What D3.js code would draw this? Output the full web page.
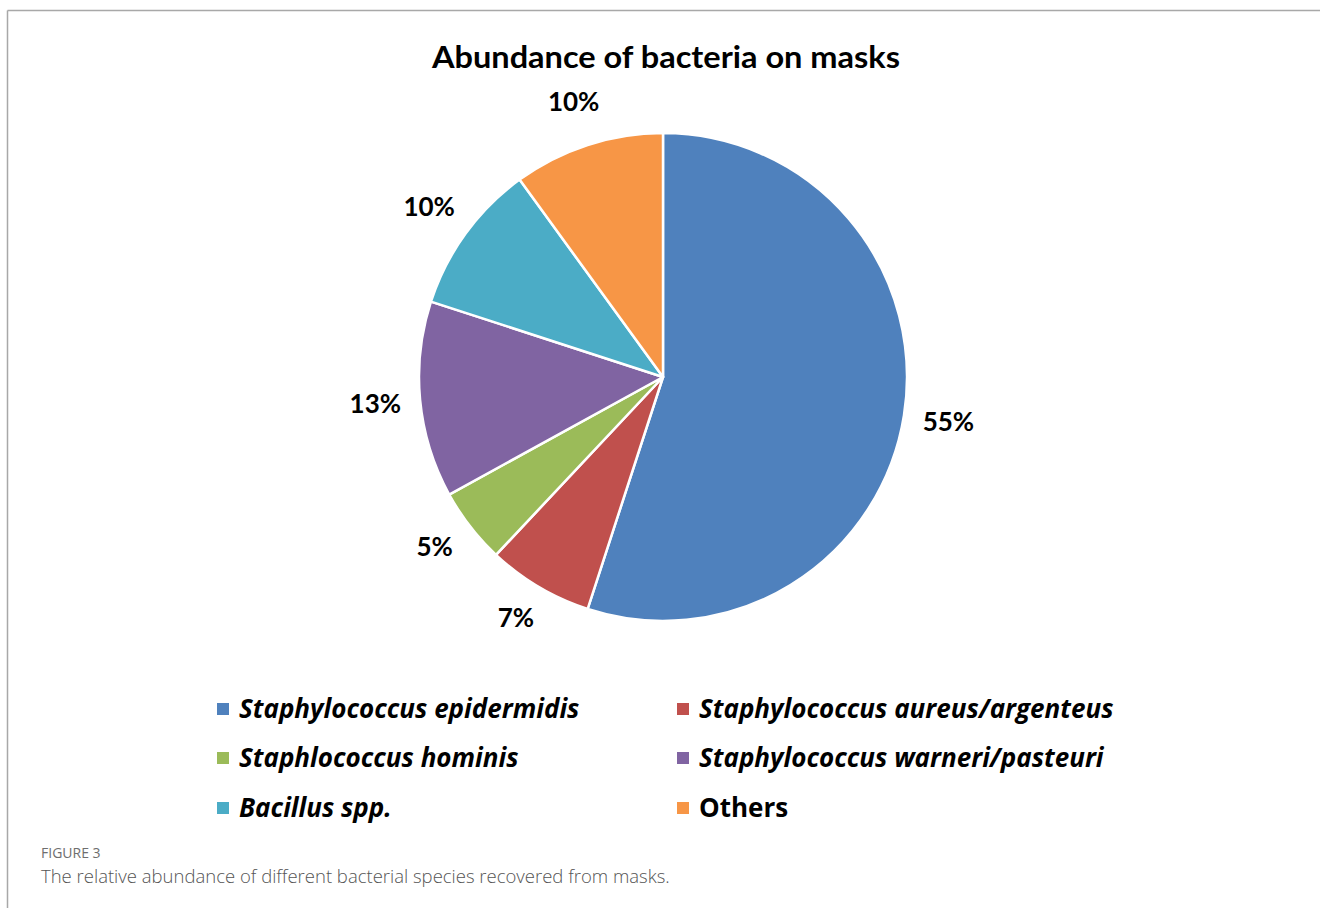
<!DOCTYPE html>
<html>
<head>
<meta charset="utf-8">
<script src="https://cdn.jsdelivr.net/npm/d3@7"></script>
<style>
  body { margin: 0; background: #fff; }
  svg { display: block; }
</style>
</head>
<body>
<svg id="chart" width="1320" height="908"></svg>
<script>
var species = [
  "Staphylococcus epidermidis",
  "Staphylococcus aureus/argenteus",
  "Staphlococcus hominis",
  "Staphylococcus warneri/pasteuri",
  "Bacillus spp.",
  "Others"
];
var italic = [true, true, true, true, true, false];
var abundance = [55, 7, 5, 13, 10, 10];
var colors = ["#4F81BD", "#C0504D", "#9BBB59", "#8064A2", "#4BACC6", "#F79646"];

var svg = d3.select("#chart");

// frame lines (left and top only)
svg.append("line").attr("x1", 7.5).attr("y1", 10.5).attr("x2", 1320).attr("y2", 10.5)
   .attr("stroke", "#a8a8a8").attr("stroke-width", 1.5);
svg.append("line").attr("x1", 7.5).attr("y1", 10.5).attr("x2", 7.5).attr("y2", 908)
   .attr("stroke", "#a8a8a8").attr("stroke-width", 1.5);

// title
svg.append("text")
   .attr("x", 666).attr("y", 68)
   .attr("text-anchor", "middle")
   .attr("font-family", "Lato, 'Open Sans', sans-serif")
   .attr("font-weight", "bold")
   .attr("font-size", 31)
   .attr("textLength", 468)
   .attr("lengthAdjust", "spacingAndGlyphs")
   .attr("fill", "#000")
   .text("Abundance of bacteria on masks");

var cx = 663, cy = 377, radius = 244;

var pie = d3.pie().sort(null).value(function(d) { return d; });
var arcs = pie(abundance);

var arc = d3.arc().innerRadius(0).outerRadius(radius);
var labelArc = d3.arc().innerRadius(289).outerRadius(289);

var g = svg.append("g").attr("transform", "translate(" + cx + "," + cy + ")");

g.selectAll("path")
 .data(arcs)
 .enter().append("path")
 .attr("d", arc)
 .attr("fill", function(d, i) { return colors[i]; })
 .attr("stroke", "#fff")
 .attr("stroke-width", 2.5)
 .attr("stroke-linejoin", "round");

g.selectAll("text.lbl")
 .data(arcs)
 .enter().append("text")
 .attr("class", "lbl")
 .attr("transform", function(d) {
   var c = labelArc.centroid(d);
   // nudge lower-left labels a little inward, like the spreadsheet's best-fit
   return "translate(" + c[0] + "," + (c[1] - (c[1] > 100 ? 7 : 0)) + ")";
 })
 .attr("text-anchor", "middle")
 .attr("dy", "0.33em")
 .attr("font-family", "Lato, 'Open Sans', sans-serif")
 .attr("font-weight", "bold")
 .attr("font-size", 26)
 .attr("fill", "#000")
 .text(function(d) { return d.data + "%"; });

// legend, two columns
var colX = [217, 677];
var rowY = [709, 758, 808];

var leg = svg.append("g").selectAll("g")
  .data(species)
  .enter().append("g")
  .attr("transform", function(d, i) {
    return "translate(" + colX[i % 2] + "," + rowY[Math.floor(i / 2)] + ")";
  });

leg.append("rect")
   .attr("x", 0).attr("y", -6)
   .attr("width", 12).attr("height", 12)
   .attr("fill", function(d, i) { return colors[i]; });

leg.append("text")
   .attr("x", 22).attr("dy", "0.36em")
   .attr("font-family", "'Open Sans', sans-serif")
   .attr("font-weight", "bold")
   .attr("font-style", function(d, i) { return italic[i] ? "italic" : "normal"; })
   .attr("font-size", 26)
   .attr("fill", "#000")
   .text(function(d) { return d; });

// caption
svg.append("text")
   .attr("x", 41).attr("y", 858)
   .attr("font-family", "'Open Sans', sans-serif")
   .attr("font-size", 14)
   .attr("fill", "#6e6e6e")
   .text("FIGURE 3");

svg.append("text")
   .attr("x", 41).attr("y", 883)
   .attr("font-family", "'Open Sans', sans-serif")
   .attr("font-weight", 300)
   .attr("font-size", 18.5)
   .attr("fill", "#555")
   .text("The relative abundance of different bacterial species recovered from masks.");
</script>
</body>
</html>
